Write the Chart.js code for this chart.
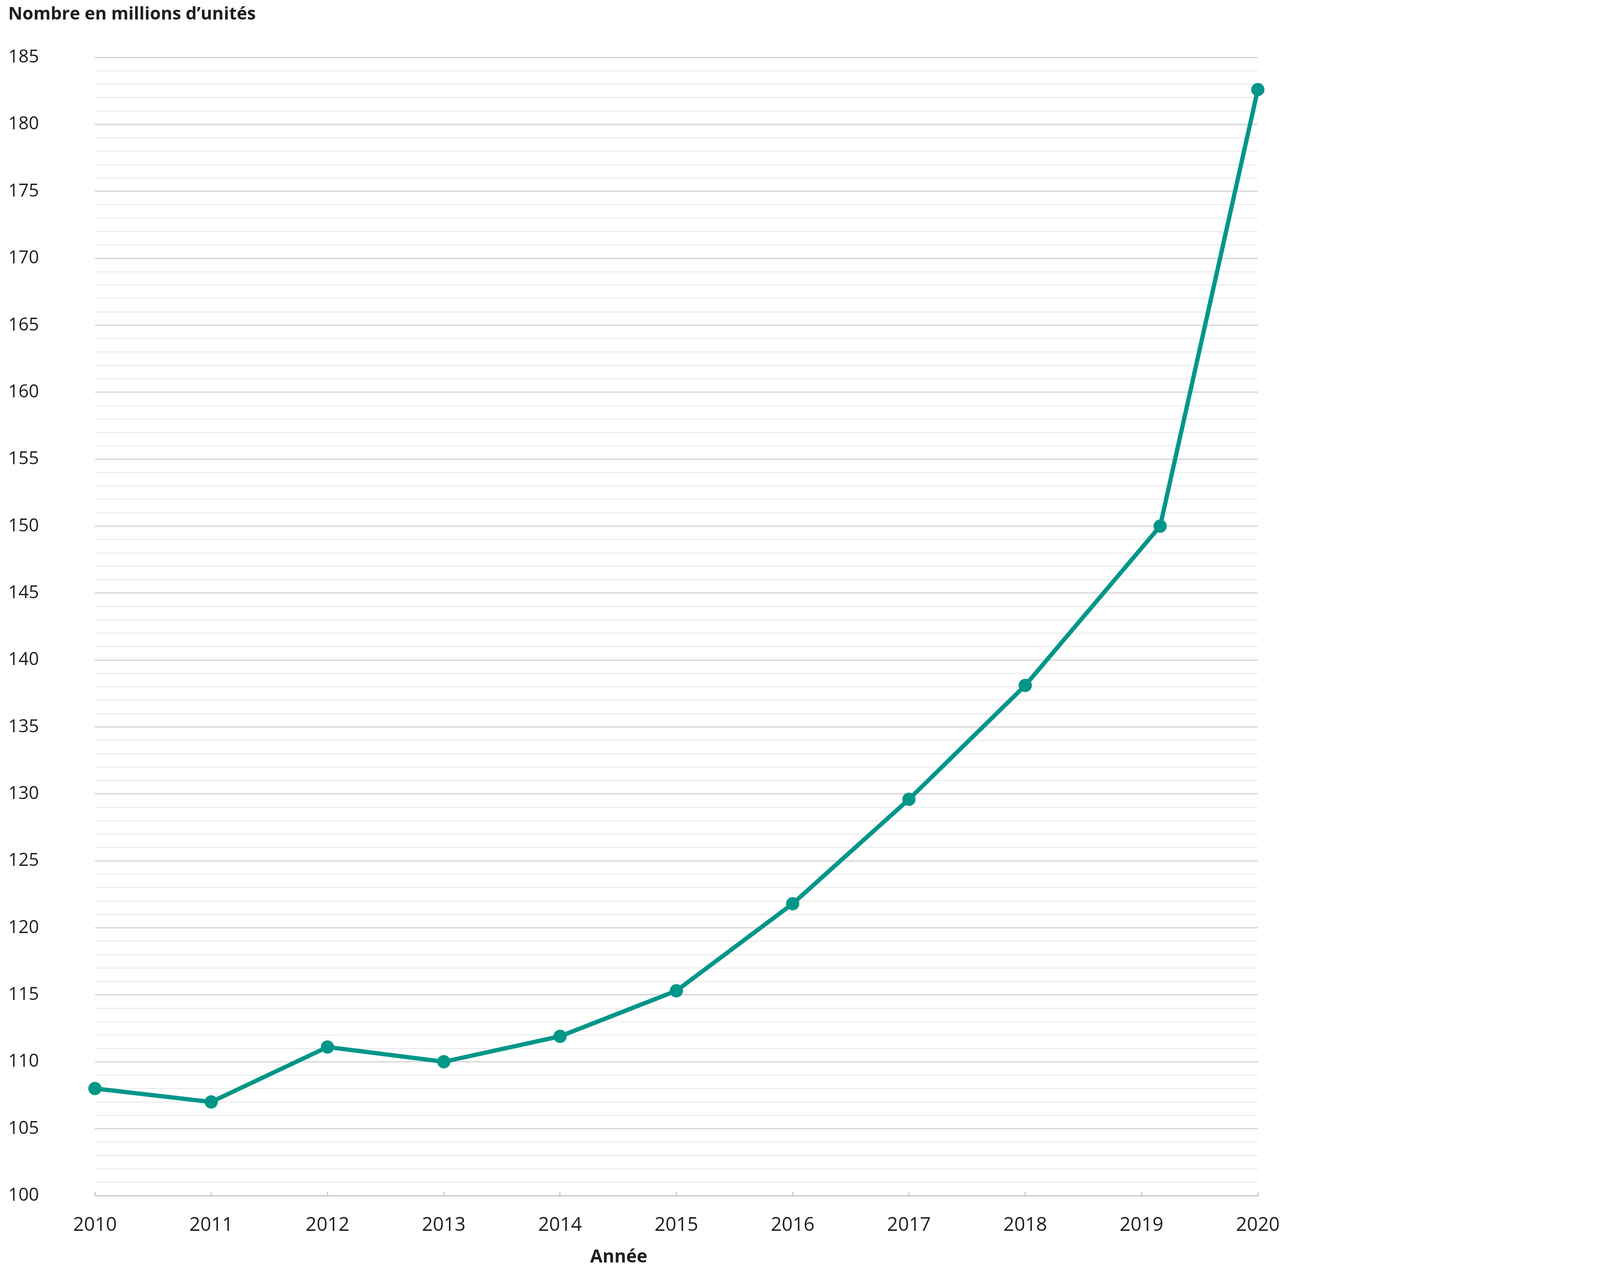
<!DOCTYPE html>
<html>
<head>
<meta charset="utf-8">
<script src="https://cdn.jsdelivr.net/npm/chart.js@4.4.1/dist/chart.umd.min.js"></script>
<style>
  html, body { margin: 0; padding: 0; background: #fff; }
  #container { width: 5760px; height: 3240px; position: relative; }
</style>
</head>
<body>
<div id="container"><canvas id="chart"></canvas></div>
<script>
// Nombre en millions d'unités, 2010-2020
var years = [2010, 2011, 2012, 2013, 2014, 2015, 2016, 2017, 2018, 2019, 2020];
// position of each point on the year axis (2019 point sits a bit right of its tick)
var pointYears = [2010, 2011, 2012, 2013, 2014, 2015, 2016, 2017, 2018, 2019.16, 2020];
var values = [108.0, 107.0, 111.1, 110.0, 111.9, 115.3, 121.8, 129.6, 138.1, 150.0, 182.6];

var yTitle = "Nombre en millions d\u2019unités";
var xTitle = "Année";

var teal = "#009688";
var textColor = "#1e1e1e";
var fontFamily = "'Open Sans', 'Noto Sans', sans-serif";

var points = pointYears.map(function (x, i) { return { x: x, y: values[i] }; });

// axis title under the year labels
var xTitlePlugin = {
    id: "xTitle",
    afterDraw: function (chart) {
        var ctx = chart.ctx;
        ctx.save();
        ctx.font = "bold 46px " + fontFamily;
        ctx.fillStyle = textColor;
        ctx.textAlign = "center";
        ctx.textBaseline = "middle";
        ctx.fillText(xTitle, 1584, 3218);
        ctx.restore();
    }
};

var chart = new Chart(document.getElementById("chart").getContext("2d"), {
    type: "line",
    data: {
        datasets: [{
            data: points,
            borderColor: teal,
            backgroundColor: teal,
            borderWidth: 11,
            pointRadius: 17,
            pointBorderWidth: 0,
            pointBackgroundColor: teal,
            tension: 0,
            clip: false
        }]
    },
    options: {
        responsive: true,
        maintainAspectRatio: false,
        devicePixelRatio: 1,
        animation: false,
        layout: { padding: { left: 21, top: 10, right: 2540, bottom: 0 } },
        plugins: {
            legend: { display: false },
            tooltip: { enabled: false },
            title: {
                display: true,
                text: yTitle,
                align: "start",
                color: textColor,
                font: { family: fontFamily, size: 45, weight: "bold" },
                padding: { top: 0, bottom: 83 }
            }
        },
        scales: {
            x: {
                type: "linear",
                min: years[0],
                max: years[years.length - 1],
                afterBuildTicks: function (scale) {
                    scale.ticks = years.map(function (y) { return { value: y }; });
                },
                afterFit: function (scale) { scale.height = 180; },
                ticks: {
                    callback: function (v) { return String(v); },
                    color: textColor,
                    font: { family: fontFamily, size: 49 },
                    padding: 57,
                    maxRotation: 0,
                    autoSkip: false
                },
                grid: {
                    display: true,
                    drawOnChartArea: false,
                    drawTicks: true,
                    tickLength: -10,
                    color: "#c8c8c8",
                    lineWidth: 3
                },
                border: { display: true, color: "#c8c8c8", width: 3 }
            },
            y: {
                min: 100,
                max: 185,
                afterFit: function (scale) { scale.width = 222; },
                ticks: {
                    stepSize: 1,
                    autoSkip: false,
                    maxTicksLimit: 200,
                    crossAlign: "far",
                    color: textColor,
                    font: { family: fontFamily, size: 46 },
                    callback: function (v) { return v % 5 === 0 ? String(v) : ""; }
                },
                grid: {
                    drawTicks: false,
                    lineWidth: 3,
                    color: function (ctx) {
                        return ctx.tick && ctx.tick.value % 5 === 0 ? "#d4d4d4" : "#ededed";
                    }
                },
                border: { display: false }
            }
        }
    },
    plugins: [xTitlePlugin]
});
</script>
</body>
</html>
